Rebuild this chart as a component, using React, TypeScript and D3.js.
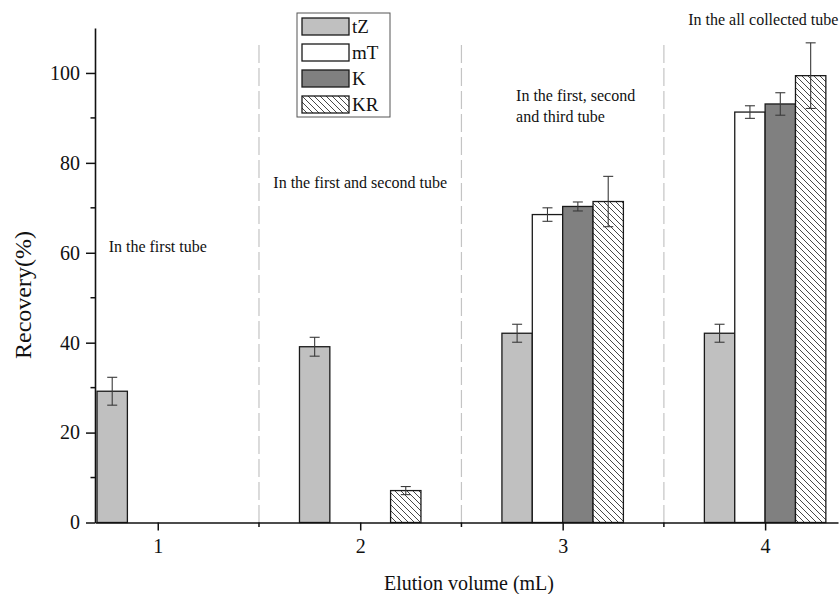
import React, { useRef, useEffect } from 'react';
import * as d3 from 'd3';

// elution volume groups
const categories = [1, 2, 3, 4];
const seriesNames = ['tZ', 'mT', 'K', 'KR'];

// recovery (%) per group, null = no bar
const tZ = [29.2, 39.1, 42.1, 42.1];
const mT = [null, null, 68.5, 91.3];
const K = [null, null, 70.3, 93.1];
const KR = [null, 7.1, 71.4, 99.4];

// error bar half widths
const tZErr = [3.1, 2.1, 2.0, 2.0];
const mTErr = [0, 0, 1.5, 1.4];
const KErr = [0, 0, 1.0, 2.5];
const KRErr = [0, 0.9, 5.6, 7.3];

const yTicks = [0, 20, 40, 60, 80, 100];
const yMinorTicks = [10, 30, 50, 70, 90];
const xMinorTicks = [1.5, 2.5, 3.5];

const notes = [
  { lines: ['In the first tube'], x: 1, anchor: 'middle', y: 252 },
  { lines: ['In the first and second tube'], x: 2, anchor: 'middle', y: 188 },
  { lines: ['In the first, second', 'and third tube'], x: 2.77, anchor: 'start', y: 101 },
  { lines: ['In the all collected tube'], x: 3.62, anchor: 'start', y: 25 },
];

const fills = ['#c0c0c0', '#ffffff', '#808080', 'url(#hatch)'];

const BarChart = () => {
  const svgRef = useRef<SVGSVGElement>(null);

  useEffect(() => {
    const svg = d3.select(svgRef.current);
    svg.selectAll('*').remove();

    const width = 840;
    const height = 594;
    const font = '"Liberation Serif", "Times New Roman", serif';

    const x = d3.scaleLinear().domain([0.69, 4.36]).range([95, 838]);
    const y = d3.scaleLinear().domain([0, 110]).range([522.5, 28]);

    svg.append('rect').attr('width', width).attr('height', height).attr('fill', '#fff');

    const defs = svg.append('defs');
    const pat = defs.append('pattern')
      .attr('id', 'hatch')
      .attr('patternUnits', 'userSpaceOnUse')
      .attr('width', 6)
      .attr('height', 6);
    pat.append('rect').attr('width', 6).attr('height', 6).attr('fill', '#fff');
    pat.append('path')
      .attr('d', 'M0,0 L6,6 M-1,5 L1,7 M5,-1 L7,1')
      .attr('stroke', '#333')
      .attr('stroke-width', 0.9);

    // dashed separators between groups
    svg.selectAll('.sep')
      .data(xMinorTicks)
      .enter()
      .append('line')
        .attr('x1', d => x(d)).attr('x2', d => x(d))
        .attr('y1', 45).attr('y2', y(0))
        .attr('stroke', '#c4c4c4')
        .attr('stroke-width', 1.2)
        .attr('stroke-dasharray', '18,5');

    // bars
    const series = [tZ, mT, K, KR];
    const errs = [tZErr, mTErr, KErr, KRErr];
    const bw = 0.15;
    const barData: any[] = [];
    series.forEach((vals, si) => {
      vals.forEach((v, ci) => {
        if (v == null) return;
        const x0 = categories[ci] + (si - 2) * bw;
        barData.push({ si, v, e: errs[si][ci], x0, x1: x0 + bw });
      });
    });

    svg.selectAll('.bar')
      .data(barData)
      .enter()
      .append('rect')
        .attr('x', d => x(d.x0))
        .attr('y', d => y(d.v))
        .attr('width', d => x(d.x1) - x(d.x0))
        .attr('height', d => y(0) - y(d.v))
        .attr('fill', d => fills[d.si])
        .attr('stroke', '#1a1a1a')
        .attr('stroke-width', 1.3);

    // error bars
    const eg = svg.append('g').attr('stroke', '#3a3a3a').attr('stroke-width', 1.1);
    barData.filter(d => d.e > 0).forEach(d => {
      const cx = (x(d.x0) + x(d.x1)) / 2;
      eg.append('line').attr('x1', cx).attr('x2', cx).attr('y1', y(d.v + d.e)).attr('y2', y(d.v - d.e));
      eg.append('line').attr('x1', cx - 5).attr('x2', cx + 5).attr('y1', y(d.v + d.e)).attr('y2', y(d.v + d.e));
      eg.append('line').attr('x1', cx - 5).attr('x2', cx + 5).attr('y1', y(d.v - d.e)).attr('y2', y(d.v - d.e));
    });

    // y axis
    const yAxis = svg.append('g').attr('transform', `translate(${x(0.69)},0)`);
    yAxis.call(d3.axisLeft(y).tickValues(yTicks).tickSize(9).tickSizeOuter(0).tickPadding(6));
    yAxis.selectAll('.tick line').attr('stroke', '#111').attr('stroke-width', 1.5);
    yAxis.select('.domain').attr('stroke', '#111').attr('stroke-width', 1.6);
    yAxis.selectAll('text').attr('font-family', font).attr('font-size', 20).attr('fill', '#111');
    yAxis.selectAll('.minor')
      .data(yMinorTicks)
      .enter()
      .append('line')
        .attr('x1', -4.5).attr('x2', 0)
        .attr('y1', d => y(d)).attr('y2', d => y(d))
        .attr('stroke', '#111').attr('stroke-width', 1.5);

    // x axis
    const xAxis = svg.append('g').attr('transform', `translate(0,${y(0)})`);
    xAxis.call(d3.axisBottom(x).tickValues(categories).tickFormat(d3.format('d')).tickSize(8).tickSizeOuter(0).tickPadding(8));
    xAxis.selectAll('.tick line').attr('stroke', '#111').attr('stroke-width', 1.5);
    xAxis.select('.domain').attr('stroke', '#111').attr('stroke-width', 1.6);
    xAxis.selectAll('text').attr('font-family', font).attr('font-size', 20).attr('fill', '#111');
    xAxis.selectAll('.minor')
      .data(xMinorTicks)
      .enter()
      .append('line')
        .attr('x1', d => x(d)).attr('x2', d => x(d))
        .attr('y1', 0).attr('y2', 4.5)
        .attr('stroke', '#111').attr('stroke-width', 1.5);

    // axis titles
    svg.append('text')
      .attr('transform', 'translate(31,295) rotate(-90)')
      .attr('text-anchor', 'middle')
      .attr('font-family', font)
      .attr('font-size', 24)
      .attr('fill', '#111')
      .text('Recovery(%)');

    svg.append('text')
      .attr('x', 469)
      .attr('y', 590)
      .attr('text-anchor', 'middle')
      .attr('font-family', font)
      .attr('font-size', 20)
      .attr('fill', '#111')
      .text('Elution volume (mL)');

    // annotations
    notes.forEach(n => {
      n.lines.forEach((t, i) => {
        svg.append('text')
          .attr('x', x(n.x))
          .attr('y', n.y + i * 21)
          .attr('text-anchor', n.anchor)
          .attr('font-family', font)
          .attr('font-size', 16)
          .attr('fill', '#111')
          .text(t);
      });
    });

    // legend
    const lg = svg.append('g').attr('transform', 'translate(297,13)');
    lg.append('rect')
      .attr('width', 93).attr('height', 104)
      .attr('fill', '#fff').attr('stroke', '#555').attr('stroke-width', 1);
    seriesNames.forEach((name, i) => {
      lg.append('rect')
        .attr('x', 5).attr('y', 5 + i * 26)
        .attr('width', 47).attr('height', 17)
        .attr('fill', fills[i])
        .attr('stroke', '#1a1a1a').attr('stroke-width', 1.3);
      lg.append('text')
        .attr('x', 55).attr('y', 20 + i * 26)
        .attr('font-family', font)
        .attr('font-size', 19)
        .attr('fill', '#111')
        .text(name);
    });
  }, []);

  return (
    <div style={{ position: 'absolute', left: 0, top: 0 }}>
      <svg ref={svgRef} width={840} height={594} style={{ display: 'block' }}></svg>
    </div>
  );
};

export default function App() {
  return <BarChart />;
}
